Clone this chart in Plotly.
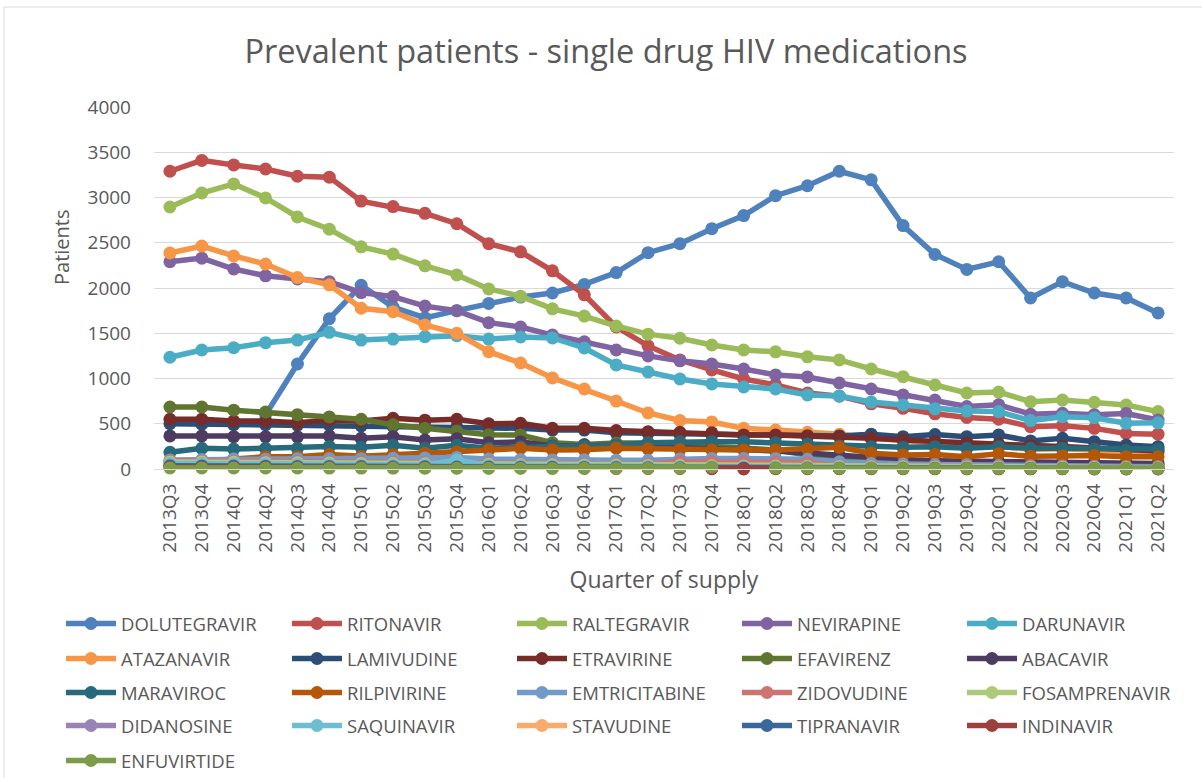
import plotly.graph_objects as go

quarters = ["2013Q3", "2013Q4", "2014Q1", "2014Q2", "2014Q3", "2014Q4", "2015Q1", "2015Q2",
            "2015Q3", "2015Q4", "2016Q1", "2016Q2", "2016Q3", "2016Q4", "2017Q1", "2017Q2",
            "2017Q3", "2017Q4", "2018Q1", "2018Q2", "2018Q3", "2018Q4", "2019Q1", "2019Q2",
            "2019Q3", "2019Q4", "2020Q1", "2020Q2", "2020Q3", "2020Q4", "2021Q1", "2021Q2"]

dolutegravir = [None, None, None, 600, 1160, 1660, 2030, 1790, 1670, 1750, 1830, 1900, 1945, 2040, 2170, 2390,
                2490, 2655, 2800, 3020, 3130, 3290, 3195, 2690, 2370, 2205, 2290, 1890, 2070, 1945, 1890, 1725]
ritonavir = [3290, 3410, 3360, 3315, 3235, 3225, 2960, 2900, 2825, 2710, 2490, 2400, 2190, 1925, 1570, 1360,
             1205, 1095, 995, 930, 840, 805, 720, 670, 610, 570, 550, 468, 479, 449, 392, 385]
raltegravir = [2895, 3050, 3150, 2995, 2785, 2650, 2455, 2375, 2245, 2145, 1990, 1910, 1770, 1690, 1580, 1490,
               1445, 1370, 1315, 1295, 1240, 1205, 1105, 1020, 928, 840, 850, 744, 762, 737, 707, 634]
nevirapine = [2290, 2330, 2210, 2135, 2100, 2070, 1950, 1905, 1800, 1750, 1617, 1569, 1480, 1405, 1315, 1250,
              1195, 1160, 1105, 1040, 1017, 950, 884, 818, 762, 690, 710, 605, 615, 600, 612, 541]
darunavir = [1235, 1315, 1340, 1396, 1425, 1510, 1425, 1436, 1462, 1473, 1436, 1459, 1448, 1337, 1150, 1072,
             995, 940, 906, 884, 818, 807, 740, 707, 665, 640, 634, 535, 578, 567, 505, 510]
atazanavir = [2387, 2464, 2354, 2265, 2115, 2035, 1776, 1738, 1591, 1499, 1296, 1171, 1006, 884, 751, 619,
              536, 520, 449, 431, 405, 383, 340, 310, 285, 265, 250, 215, 225, 205, 190, 180]
lamivudine = [500, 495, 490, 490, 485, 485, 475, 470, 465, 465, 455, 450, 430, 430, 400, 395,
              385, 375, 365, 360, 355, 365, 385, 357, 380, 357, 376, 310, 340, 302, 265, 247]
etravirine = [550, 550, 530, 530, 510, 540, 530, 560, 540, 550, 500, 505, 450, 450, 425, 412,
              405, 400, 376, 376, 368, 357, 339, 320, 302, 285, 276, 260, 250, 235, 215, 200]
efavirenz = [685, 685, 650, 630, 600, 575, 550, 488, 450, 420, 378, 376, 290, 270, 287, 287,
             265, 246, 232, 210, 155, 140, 110, 90, 80, 75, 70, 66, 62, 58, 52, 46]
abacavir = [365, 365, 357, 357, 355, 365, 339, 357, 320, 335, 290, 300, 255, 265, 262, 250,
            240, 228, 218, 200, 178, 150, 122, 104, 92, 86, 80, 76, 72, 70, 66, 62]
maraviroc = [185, 228, 220, 228, 228, 250, 240, 262, 230, 262, 230, 245, 250, 255, 262, 290,
             300, 302, 300, 290, 275, 255, 247, 239, 247, 228, 247, 228, 228, 225, 210, 221]
rilpivirine = [60, 80, 110, 136, 136, 160, 140, 158, 175, 188, 210, 228, 210, 212, 230, 222,
               215, 210, 210, 210, 220, 240, 175, 155, 160, 136, 168, 140, 145, 150, 136, 136]
emtricitabine = [100, 104, 110, 108, 112, 115, 114, 118, 122, 128, 110, 104, 100, 101, 98, 96,
                 110, 116, 115, 114, 108, 80, 62, 55, 50, 46, 41, 36, 32, 30, 26, 24]
zidovudine = [92, 88, 86, 82, 81, 77, 76, 73, 70, 67, 66, 62, 60, 57, 56, 53,
              81, 80, 78, 76, 70, 40, 36, 33, 31, 28, 27, 24, 22, 21, 18, 17]
fosamprenavir = [78, 76, 74, 70, 68, 66, 62, 60, 58, 55, 52, 50, 47, 45, 43, 40,
                 38, 36, 34, 32, 30, 28, 26, 25, 23, 22, 20, 19, 18, 17, 16, 15]
didanosine = [45, 43, 40, 38, 36, 34, 31, 30, 28, 26, 24, 22, 20, 19, 17, 16,
              15, 14, 12, 11, 10, 9, 8, 8, 7, 6, 6, 5, 5, 4, 4, 4]
saquinavir = [62, 60, 58, 55, 53, 50, 48, 46, 45, 100, 40, 38, 35, 33, 30, 28,
              26, 24, 22, 20, 18, 17, 15, 14, 13, 12, 11, 10, 9, 9, 8, 8]
stavudine = [32, 30, 29, 27, 26, 24, 23, 21, 20, 18, 17, 16, 15, 13, 12, 11,
             10, 9, 8, 7, 6, 6, 5, 5, 4, 4, 3, 3, 3, 2, 2, 2]
tipranavir = [35, 34, 32, 31, 29, 28, 27, 25, 24, 22, 21, 20, 18, 17, 16, 15,
              14, 13, 12, 11, 10, 9, 9, 8, 8, 7, 7, 6, 6, 5, 5, 5]
indinavir = [22, 21, 20, 19, 18, 17, 16, 15, 14, 13, 12, 11, 10, 9, 8, 7,
             6, 3, 0, 3, 4, 4, 3, 3, 3, 2, 2, 2, 2, 1, 1, 1]
enfuvirtide = [12, 12, 11, 11, 11, 10, 10, 10, 9, 9, 9, 9, 8, 8, 8, 8,
               8, 20, None, 10, 7, 7, 7, 6, 6, 6, 6, 6, 5, 5, 5, 5]

series = [
    ("DOLUTEGRAVIR", dolutegravir, "#4F81BD"),
    ("RITONAVIR", ritonavir, "#C0504D"),
    ("RALTEGRAVIR", raltegravir, "#9BBB59"),
    ("NEVIRAPINE", nevirapine, "#8064A2"),
    ("DARUNAVIR", darunavir, "#4BACC6"),
    ("ATAZANAVIR", atazanavir, "#F79646"),
    ("LAMIVUDINE", lamivudine, "#2C4D75"),
    ("ETRAVIRINE", etravirine, "#772C2A"),
    ("EFAVIRENZ", efavirenz, "#5F7530"),
    ("ABACAVIR", abacavir, "#4D3B62"),
    ("MARAVIROC", maraviroc, "#276A7C"),
    ("RILPIVIRINE", rilpivirine, "#B65708"),
    ("EMTRICITABINE", emtricitabine, "#729ACA"),
    ("ZIDOVUDINE", zidovudine, "#CD7371"),
    ("FOSAMPRENAVIR", fosamprenavir, "#AFC97A"),
    ("DIDANOSINE", didanosine, "#9983B5"),
    ("SAQUINAVIR", saquinavir, "#6FBDD1"),
    ("STAVUDINE", stavudine, "#F9AB6B"),
    ("TIPRANAVIR", tipranavir, "#3A679C"),
    ("INDINAVIR", indinavir, "#9C403E"),
    ("ENFUVIRTIDE", enfuvirtide, "#7D9C47"),
]

FONT = "Open Sans"
GREY = "#595959"
W, H = 1202, 778
L, R, T, B = 154, 28, 107, 309

col_x = [61, 287, 512, 737, 962]
row_tops = [605, 640, 674, 707, 742]

fig = go.Figure()
legends = {}
for i, (name, vals, color) in enumerate(series):
    lid = "legend" if i == 0 else f"legend{i + 1}"
    fig.add_trace(go.Scatter(
        x=quarters, y=vals, name=name, mode="lines+markers",
        line=dict(color=color, width=5.5),
        marker=dict(color=color, size=13, line=dict(width=0)),
        connectgaps=False, cliponaxis=False,
        legend=lid,
    ))
    legends[lid] = dict(orientation="h", x=col_x[i % 5] / W, xref="container", xanchor="left",
                        y=1 - row_tops[i // 5] / H, yref="container", yanchor="top",
                        font=dict(family=FONT, size=18.5, color=GREY),
                        itemwidth=50, bgcolor="rgba(0,0,0,0)")

fig.update_layout(
    width=W, height=H,
    margin=dict(l=L, r=R, t=T, b=B, autoexpand=False),
    paper_bgcolor="white", plot_bgcolor="white",
    font=dict(family=FONT, color=GREY),
    title=dict(text="Prevalent patients - single drug HIV medications",
               font=dict(family=FONT, size=32.5, color=GREY),
               x=606 / W, xref="container", xanchor="center",
               y=1 - 52 / H, yref="container", yanchor="middle"),
    showlegend=True,
    xaxis=dict(type="category", range=[-0.5, 31.5], showgrid=False,
               showline=True, linecolor="#D9D9D9", linewidth=1,
               ticks="", tickangle=-90, tickfont=dict(family=FONT, size=19, color=GREY),
               ticklabelstandoff=6,
               title=dict(text="Quarter of supply", font=dict(family=FONT, size=23, color=GREY),
                          standoff=20)),
    yaxis=dict(range=[0, 4000], dtick=500, showgrid=True, gridcolor="#D9D9D9", gridwidth=1,
               zeroline=True, zerolinecolor="#D9D9D9", zerolinewidth=1,
               showline=False, ticks="", tickfont=dict(family=FONT, size=19, color=GREY),
               ticklabelstandoff=22),
    annotations=[dict(text="Patients", textangle=-90, showarrow=False,
                      xref="paper", yref="paper",
                      x=(62 - L) / (W - L - R), y=(H - B - 248) / (H - T - B),
                      xanchor="center", yanchor="middle",
                      font=dict(family=FONT, size=20, color=GREY))],
    **legends,
)

# chart frame
pw, ph = W - L - R, H - T - B
fig.add_shape(type="rect", xref="paper", yref="paper",
              x0=(4 - L) / pw, x1=(1215 - L) / pw,
              y0=(H - B - 790) / ph, y1=(H - B - 7) / ph,
              line=dict(color="#D9D9D9", width=1), fillcolor="rgba(0,0,0,0)", layer="below")

fig.write_html("out.html", config={"displayModeBar": False},
               post_script="document.body.style.margin='0px';")
